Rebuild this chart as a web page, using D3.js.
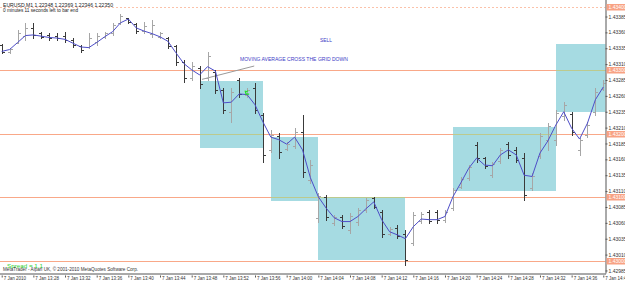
<!DOCTYPE html>
<html>
<head>
<meta charset="utf-8">
<script src="https://d3js.org/d3.v7.min.js"></script>
<style>
  body{margin:0;background:#fff;}
  svg{display:block;font-family:"Liberation Sans",Arial,sans-serif;}
</style>
</head>
<body>
<div id="chart"></div>
<script>
// ---- data ----
const symbol = "EURUSD,M1";
const quote = ["1.22348", "1.22369", "1.22346", "1.22350"];
const timerText = "0 minutes 11 seconds left to bar end";
const footerText = "MetaTrader - Alpari UK, \u00a9 2001-2010 MetaQuotes Software Corp.";
const spreadText = "Spread =  1.1";

const startTime = new Date(2010, 0, 7, 13, 24);
const endTime = new Date(2010, 0, 7, 14, 40);

const timeTickMinutes = [0, 4, 8, 12, 16, 20, 24, 28, 32, 36, 40, 44, 48, 52, 56, 60, 64, 68, 72, 76];
const timeTickLabels = ["7 Jan 2010", "7 Jan 13:28", "7 Jan 13:32", "7 Jan 13:36", "7 Jan 13:40",
  "7 Jan 13:44", "7 Jan 13:48", "7 Jan 13:52", "7 Jan 13:56", "7 Jan 14:00", "7 Jan 14:04",
  "7 Jan 14:08", "7 Jan 14:12", "7 Jan 14:16", "7 Jan 14:20", "7 Jan 14:24", "7 Jan 14:28",
  "7 Jan 14:32", "7 Jan 14:36", "7 Jan 14:40"];

const priceTicks = [1.42985, 1.43010, 1.43035, 1.43060, 1.43085, 1.43110, 1.43135, 1.43160,
  1.43185, 1.43210, 1.43235, 1.43260, 1.43285, 1.43310, 1.43335, 1.43360, 1.43385];
const gridLevels = [1.43000, 1.43100, 1.43200, 1.43300, 1.43400];

const barOpen = [1.43340,1.43329,1.43343,1.43354,1.43367,1.43359,1.43356,1.43354,1.43354,1.43348,
  1.43339,1.43337,1.43345,1.43353,1.43359,1.43375,1.43383,1.43373,1.43362,1.43357,
  1.43353,1.43351,1.43339,1.43313,1.43288,1.43304,1.43288,1.43298,1.43269,1.43235,
  1.43285,1.43261,1.43272,1.43230,1.43175,1.43197,1.43176,1.43181,1.43203,1.43128,
  1.43068,1.43101,1.43060,1.43069,1.43049,1.43061,1.43080,1.43099,1.43077,1.43043,
  1.43052,1.43043,1.43028,1.43063,1.43077,1.43077,1.43065,1.43083,1.43117,1.43131,
  1.43183,1.43162,1.43135,1.43157,1.43184,1.43175,1.43162,1.43115,1.43165,1.43191,
  1.43191,1.43228,1.43231,1.43175,1.43198,1.43235,1.43271];
const barHigh = [1.43342,1.43335,1.43364,1.43375,1.43375,1.43361,1.43359,1.43359,1.43361,1.43351,
  1.43340,1.43359,1.43359,1.43361,1.43375,1.43389,1.43383,1.43375,1.43376,1.43380,
  1.43361,1.43353,1.43340,1.43317,1.43313,1.43307,1.43329,1.43301,1.43272,1.43272,
  1.43288,1.43272,1.43280,1.43233,1.43206,1.43202,1.43187,1.43209,1.43230,1.43159,
  1.43107,1.43104,1.43072,1.43072,1.43076,1.43083,1.43099,1.43101,1.43080,1.43054,
  1.43057,1.43049,1.43077,1.43077,1.43080,1.43080,1.43080,1.43115,1.43132,1.43151,
  1.43187,1.43164,1.43156,1.43178,1.43187,1.43180,1.43170,1.43139,1.43202,1.43217,
  1.43238,1.43250,1.43235,1.43194,1.43219,1.43272,1.43285];
const barLow = [1.43328,1.43328,1.43343,1.43348,1.43351,1.43351,1.43348,1.43348,1.43345,1.43337,
  1.43329,1.43335,1.43340,1.43351,1.43356,1.43373,1.43375,1.43359,1.43359,1.43353,
  1.43351,1.43335,1.43309,1.43282,1.43285,1.43272,1.43285,1.43265,1.43233,1.43219,
  1.43258,1.43258,1.43233,1.43156,1.43172,1.43162,1.43175,1.43178,1.43132,1.43123,
  1.43061,1.43065,1.43057,1.43052,1.43044,1.43057,1.43077,1.43083,1.43038,1.43041,
  1.43036,1.42994,1.43025,1.43060,1.43060,1.43060,1.43061,1.43080,1.43115,1.43128,
  1.43156,1.43146,1.43132,1.43154,1.43162,1.43156,1.43096,1.43112,1.43162,1.43175,
  1.43183,1.43222,1.43198,1.43167,1.43195,1.43230,1.43269];
const barClose = [1.43329,1.43334,1.43359,1.43367,1.43356,1.43353,1.43351,1.43351,1.43348,1.43340,
  1.43332,1.43351,1.43354,1.43359,1.43372,1.43386,1.43376,1.43362,1.43370,1.43372,
  1.43359,1.43339,1.43313,1.43288,1.43307,1.43279,1.43323,1.43269,1.43238,1.43266,
  1.43263,1.43269,1.43238,1.43167,1.43198,1.43172,1.43184,1.43203,1.43140,1.43151,
  1.43102,1.43069,1.43069,1.43055,1.43071,1.43080,1.43096,1.43085,1.43043,1.43050,
  1.43039,1.43002,1.43072,1.43074,1.43063,1.43065,1.43077,1.43112,1.43129,1.43148,
  1.43162,1.43150,1.43153,1.43175,1.43167,1.43159,1.43104,1.43134,1.43197,1.43213,
  1.43233,1.43246,1.43203,1.43191,1.43214,1.43266,1.43280];
const maValues = [1.43330,1.43333,1.43344,1.43355,1.43356,1.43354,1.43352,1.43351,1.43349,1.43343,
  1.43337,1.43336,1.43344,1.43353,1.43361,1.43375,1.43381,1.43367,1.43362,1.43358,
  1.43353,1.43346,1.43328,1.43311,1.43301,1.43293,1.43306,1.43299,1.43249,1.43250,
  1.43263,1.43262,1.43246,1.43219,1.43195,1.43191,1.43184,1.43195,1.43175,1.43131,
  1.43101,1.43083,1.43068,1.43062,1.43062,1.43070,1.43082,1.43093,1.43065,1.43046,
  1.43041,1.43035,1.43054,1.43066,1.43065,1.43065,1.43070,1.43101,1.43123,1.43146,
  1.43162,1.43151,1.43150,1.43167,1.43175,1.43167,1.43135,1.43133,1.43170,1.43189,
  1.43214,1.43235,1.43209,1.43192,1.43217,1.43254,1.43274];

// rectangles drawn on the chart (bar index from / to, price top / bottom)
const boxFrom = [25, 34, 40, 57, 70];
const boxTo = [33, 40, 51, 70, 77];
const boxTop = [1.43283, 1.43195, 1.43101, 1.43211, 1.43342];
const boxBottom = [1.43178, 1.43095, 1.43002, 1.43110, 1.43235];

const trendBars = [25.3, 31.9];
const trendPrices = [1.43286, 1.43307];

const noteTexts = ["SELL", "MOVING AVERAGE CROSS THE GRID DOWN"];
const noteBars = [40.2, 30.1];
const notePrices = [1.43348, 1.43317];

const signalBar = 31;
const signalPrice = 1.43265;

class Chart{
  constructor(opts){
    this.element = opts.element;
  }

  draw(){
    this.width = 625;
    this.height = 282;
    this.plotRight = 605.5;
    this.plotBottom = 273.5;

    this.element.innerHTML = '';
    this.svg = d3.select(this.element).append('svg')
      .attr('width', this.width)
      .attr('height', this.height);

    this.svg.append('defs').append('clipPath')
      .attr('id', 'plotClip')
      .append('rect')
      .attr('x', 0).attr('y', 0)
      .attr('width', this.plotRight).attr('height', this.plotBottom);

    this.plot = this.svg.append('g').attr('clip-path', 'url(#plotClip)');

    this.createScales();
    this.addLevels();
    this.addBoxes();
    this.addTrend();
    this.addBars();
    this.addAverage();
    this.addNotes();
    this.addAxes();
    this.addLabels();
  }

  barTime(i){
    return new Date(startTime.getTime() + i * 60000);
  }

  createScales(){
    this.xScale = d3.scaleTime()
      .domain([startTime, endTime])
      .range([1.7, 603.3]);
    this.yScale = d3.scaleLinear()
      .domain([1.42981, 1.43411])
      .range([273, 0]);
  }

  addLevels(){
    this.plot.append('g')
      .selectAll('line')
      .data(gridLevels)
      .join('line')
      .attr('x1', 0)
      .attr('x2', this.plotRight)
      .attr('y1', d => Math.round(this.yScale(d)) + 0.5)
      .attr('y2', d => Math.round(this.yScale(d)) + 0.5)
      .style('stroke', d => d === 1.434 ? '#fbc2aa' : '#f9a888')
      .style('stroke-width', 1)
      .style('stroke-dasharray', d => d === 1.434 ? '2,2' : null);
  }

  addBoxes(){
    const boxes = boxFrom.map((f, i) => ({from: f, to: boxTo[i], top: boxTop[i], bottom: boxBottom[i]}));
    const rectAttrs = sel => sel
      .attr('x', d => Math.round(this.xScale(this.barTime(d.from))))
      .attr('y', d => Math.round(this.yScale(d.top)))
      .attr('width', d => Math.round(this.xScale(this.barTime(d.to))) - Math.round(this.xScale(this.barTime(d.from))))
      .attr('height', d => Math.round(this.yScale(d.bottom)) - Math.round(this.yScale(d.top)));

    this.plot.append('g')
      .selectAll('rect')
      .data(boxes)
      .join('rect')
      .call(rectAttrs)
      .style('fill', '#a6dbe2');

    // level lines show through the boxes in a mixed colour
    this.svg.select('defs').append('clipPath')
      .attr('id', 'boxClip')
      .selectAll('rect')
      .data(boxes)
      .join('rect')
      .call(rectAttrs);

    this.plot.append('g')
      .attr('clip-path', 'url(#boxClip)')
      .selectAll('line')
      .data(gridLevels)
      .join('line')
      .attr('x1', 0)
      .attr('x2', this.plotRight)
      .attr('y1', d => Math.round(this.yScale(d)) + 0.5)
      .attr('y2', d => Math.round(this.yScale(d)) + 0.5)
      .style('stroke', '#bcca8e')
      .style('stroke-width', 1);
  }

  addTrend(){
    this.plot.append('line')
      .attr('x1', this.xScale(this.barTime(trendBars[0])))
      .attr('y1', this.yScale(trendPrices[0]))
      .attr('x2', this.xScale(this.barTime(trendBars[1])))
      .attr('y2', this.yScale(trendPrices[1]))
      .style('stroke', '#9a9a9a')
      .style('stroke-width', 1);
  }

  addBars(){
    const bars = barOpen.map((o, i) => ({i: i, o: o, h: barHigh[i], l: barLow[i], c: barClose[i]}));
    const x = d => Math.round(this.xScale(this.barTime(d.i))) + 0.5;
    const y = v => Math.round(this.yScale(v)) + 0.5;
    const color = d => d.c >= d.o ? '#a6a6a6' : '#3a3a3a';

    const g = this.plot.append('g')
      .selectAll('g')
      .data(bars)
      .join('g')
      .style('stroke', color)
      .style('stroke-width', 1);

    g.append('line')
      .attr('x1', x).attr('x2', x)
      .attr('y1', d => y(d.h) - 0.5).attr('y2', d => y(d.l) + 0.5);
    g.append('line')
      .attr('x1', d => x(d) - 2.5).attr('x2', x)
      .attr('y1', d => y(d.o)).attr('y2', d => y(d.o));
    g.append('line')
      .attr('x1', x).attr('x2', d => x(d) + 2.5)
      .attr('y1', d => y(d.c)).attr('y2', d => y(d.c));
  }

  addAverage(){
    const line = d3.line()
      .x((d, i) => this.xScale(this.barTime(i)))
      .y(d => this.yScale(d));

    this.plot.append('path')
      .datum(maValues)
      .attr('d', line)
      .style('fill', 'none')
      .style('stroke', '#4d4dc8')
      .style('stroke-width', 1);
  }

  addNotes(){
    this.plot.append('g')
      .selectAll('text')
      .data(noteTexts)
      .join('text')
      .attr('x', (d, i) => this.xScale(this.barTime(noteBars[i])))
      .attr('y', (d, i) => this.yScale(notePrices[i]))
      .attr('dy', '0.35em')
      .attr('textLength', (d, i) => i === 0 ? 12 : 108)
      .attr('lengthAdjust', 'spacingAndGlyphs')
      .style('fill', '#3d3dc6')
      .style('font-size', '5px')
      .text(d => d);

    // small green signal mark
    const sx = this.xScale(this.barTime(signalBar));
    const sy = this.yScale(signalPrice);
    this.plot.append('path')
      .attr('d', `M${sx - 2},${sy - 2} L${sx - 1},${sy + 1.5} L${sx + 2},${sy + 1.5} M${sx - 1},${sy - 1} L${sx + 1},${sy - 2}`)
      .style('fill', 'none')
      .style('stroke', '#22dd22')
      .style('stroke-width', 1.2);
  }

  addAxes(){
    const yAxis = d3.axisRight(this.yScale)
      .tickValues(priceTicks)
      .tickSize(2)
      .tickPadding(1)
      .tickFormat(d3.format('.5f'));

    const ya = this.svg.append('g')
      .attr('transform', `translate(${this.plotRight},0)`)
      .call(yAxis);
    ya.select('.domain').attr('d', `M0.5,0V${this.plotBottom}`).style('stroke', '#555');
    ya.selectAll('.tick line').style('stroke', '#555');
    ya.selectAll('.tick text')
      .style('font-size', '5px')
      .style('fill', '#333')
      .attr('font-family', null);

    const tickDates = timeTickMinutes.map(m => this.barTime(m));
    const xAxis = d3.axisBottom(this.xScale)
      .tickValues(tickDates)
      .tickSize(4)
      .tickPadding(1)
      .tickFormat((d, i) => timeTickLabels[i]);

    const xa = this.svg.append('g')
      .attr('transform', `translate(0,${this.plotBottom})`)
      .call(xAxis);
    xa.select('.domain').attr('d', `M0,0.5H${this.plotRight + 0.5}`).style('stroke', '#555');
    xa.selectAll('.tick line').style('stroke', '#555').attr('y1', 2);
    xa.selectAll('.tick text')
      .attr('text-anchor', 'start')
      .attr('x', 1.5)
      .attr('y', 3)
      .style('font-size', '4.5px')
      .style('fill', '#333')
      .attr('font-family', null);
  }

  addLabels(){
    // highlighted price boxes for the level lines
    const lab = this.svg.append('g')
      .selectAll('g')
      .data(gridLevels)
      .join('g')
      .attr('transform', d => `translate(${this.plotRight + 1},${Math.round(this.yScale(d))})`);
    lab.append('rect')
      .attr('x', 0).attr('y', -3)
      .attr('width', 20).attr('height', 6.5)
      .style('fill', '#f8a283');
    lab.append('text')
      .attr('x', 2).attr('y', 0.5)
      .attr('dy', '0.35em')
      .style('font-size', '5px')
      .style('fill', '#fff')
      .text(d => d3.format('.5f')(d));

    this.svg.append('text')
      .attr('x', 3).attr('y', 7.3)
      .attr('textLength', 110)
      .attr('lengthAdjust', 'spacingAndGlyphs')
      .style('font-size', '5.4px')
      .style('fill', '#222')
      .text(symbol + '  ' + quote.join(' '));

    this.svg.append('text')
      .attr('x', 3).attr('y', 12)
      .attr('textLength', 75)
      .attr('lengthAdjust', 'spacingAndGlyphs')
      .style('font-size', '5.2px')
      .style('fill', '#222')
      .text(timerText);

    this.svg.append('text')
      .attr('x', 7).attr('y', 267.5)
      .attr('textLength', 36)
      .attr('lengthAdjust', 'spacingAndGlyphs')
      .style('font-size', '5px')
      .style('fill', '#2fcf2f')
      .text(spreadText);

    this.svg.append('text')
      .attr('x', 3).attr('y', 271)
      .attr('textLength', 135)
      .attr('lengthAdjust', 'spacingAndGlyphs')
      .style('font-size', '5px')
      .style('fill', '#333')
      .text(footerText);
  }
}

const chart = new Chart({element: document.getElementById('chart')});
chart.draw();
</script>
</body>
</html>
